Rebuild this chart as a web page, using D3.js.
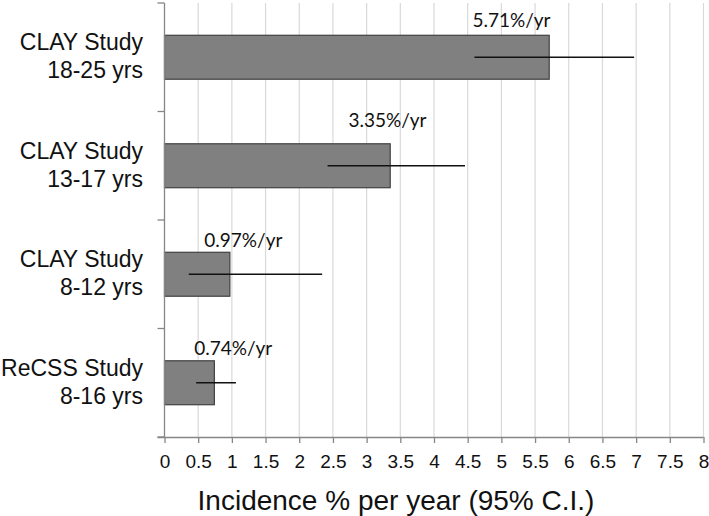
<!DOCTYPE html>
<html>
<head>
<meta charset="utf-8">
<script src="https://cdn.jsdelivr.net/npm/d3@7"></script>
<style>
  html, body { margin: 0; padding: 0; background: #fff; }
  svg { display: block; }
</style>
</head>
<body>
<svg id="chart" width="709" height="516"></svg>
<script>
// ---- data ----
const categoryLine1 = ["CLAY Study", "CLAY Study", "CLAY Study", "ReCSS Study"];
const categoryLine2 = ["18-25 yrs", "13-17 yrs", "8-12 yrs", "8-16 yrs"];
const incidence = [5.71, 3.35, 0.97, 0.74];
const ciLow = [4.60, 2.42, 0.36, 0.47];
const ciHigh = [6.97, 4.46, 2.34, 1.06];
const valueLabels = ["5.71%/yr", "3.35%/yr", "0.97%/yr", "0.74%/yr"];
const labelAnchor = [5.15, 3.31, 1.17, 1.02];   // label centre, in axis units
const tickValues = [0, 0.5, 1, 1.5, 2, 2.5, 3, 3.5, 4, 4.5, 5, 5.5, 6, 6.5, 7, 7.5, 8];
const tickLabels = ["0", "0.5", "1", "1.5", "2", "2.5", "3", "3.5", "4", "4.5", "5", "5.5", "6", "6.5", "7", "7.5", "8"];
const axisTitle = "Incidence % per year (95% C.I.)";

// ---- layout ----
const pLeft = 164.5, pRight = 703.5, pTop = 3, pBottom = 437;
const labelGap = [8, 17, 5, 6];

const svg = d3.select("#chart");
const x = d3.scaleLinear().domain([0, 8]).range([pLeft, pRight]);
const idx = d3.range(incidence.length);
const y = d3.scaleBand().domain(idx).range([pTop, pBottom]).paddingInner(0).paddingOuter(0);
const barH = y.bandwidth() * 0.405;

// gridlines
svg.append("g").selectAll("line")
  .data(tickValues.filter(d => d > 0))
  .join("line")
  .attr("x1", d => x(d)).attr("x2", d => x(d))
  .attr("y1", pTop).attr("y2", pBottom)
  .attr("stroke", "#d9d9d9").attr("stroke-width", 1.2);

// bars
svg.append("g").selectAll("rect")
  .data(idx)
  .join("rect")
  .attr("x", x(0))
  .attr("y", i => y(i) + (y.bandwidth() - barH) / 2)
  .attr("width", i => x(incidence[i]) - x(0))
  .attr("height", barH)
  .attr("fill", "#808080")
  .attr("stroke", "#404040")
  .attr("stroke-width", 1.2);

// error bars
svg.append("g").selectAll("line")
  .data(idx)
  .join("line")
  .attr("x1", i => x(ciLow[i])).attr("x2", i => x(ciHigh[i]))
  .attr("y1", i => y(i) + y.bandwidth() / 2)
  .attr("y2", i => y(i) + y.bandwidth() / 2)
  .attr("stroke", "#111").attr("stroke-width", 1.4);

// value labels
svg.append("g").selectAll("text")
  .data(idx)
  .join("text")
  .attr("x", i => x(labelAnchor[i]))
  .attr("y", i => y(i) + (y.bandwidth() - barH) / 2 - labelGap[i])
  .attr("text-anchor", "middle")
  .attr("font-family", "Lato, 'Open Sans', sans-serif")
  .attr("font-size", 19)
  .attr("fill", "#111")
  .text(i => valueLabels[i]);

// x axis
const xAxis = d3.axisBottom(x)
  .tickValues(tickValues)
  .tickFormat((d, i) => tickLabels[i])
  .tickSize(6)
  .tickSizeOuter(0);
const gx = svg.append("g").attr("transform", `translate(0,${pBottom})`).call(xAxis);
gx.select(".domain").attr("stroke", "#868686").attr("stroke-width", 1.3)
  .attr("d", `M${pLeft - 7},0.5H${pRight}`);
gx.selectAll(".tick line").attr("stroke", "#868686").attr("stroke-width", 1.3);
gx.selectAll(".tick text")
  .attr("font-family", "'Liberation Sans', Arial, sans-serif")
  .attr("font-size", 19)
  .attr("fill", "#111")
  .attr("dy", 0)
  .attr("y", 31);

// y axis (category boundaries as ticks)
const boundaries = idx.map(i => y(i)).concat([pBottom]);
svg.append("line")
  .attr("x1", pLeft).attr("x2", pLeft)
  .attr("y1", pTop).attr("y2", pBottom)
  .attr("stroke", "#868686").attr("stroke-width", 1.3);
svg.append("g").selectAll("line")
  .data(boundaries)
  .join("line")
  .attr("x1", pLeft - 7).attr("x2", pLeft)
  .attr("y1", d => d).attr("y2", d => d)
  .attr("stroke", "#868686").attr("stroke-width", 1.3);

// category labels
const cat = svg.append("g").selectAll("text")
  .data(idx)
  .join("text")
  .attr("text-anchor", "end")
  .attr("font-family", "'Liberation Sans', Arial, sans-serif")
  .attr("font-size", 23)
  .attr("fill", "#111");
cat.append("tspan")
  .attr("x", 143)
  .attr("y", i => y(i) + y.bandwidth() / 2 - 7)
  .text(i => categoryLine1[i]);
cat.append("tspan")
  .attr("x", 143)
  .attr("y", i => y(i) + y.bandwidth() / 2 + 21)
  .text(i => categoryLine2[i]);

// axis title
svg.append("text")
  .attr("x", 396)
  .attr("y", 510)
  .attr("text-anchor", "middle")
  .attr("font-family", "'Liberation Sans', Arial, sans-serif")
  .attr("font-size", 28)
  .attr("fill", "#111")
  .text(axisTitle);
</script>
</body>
</html>
